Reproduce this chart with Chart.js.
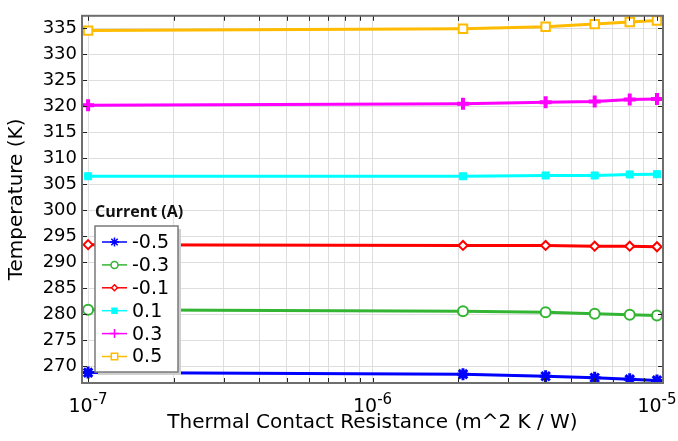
<!DOCTYPE html>
<html>
<head>
<meta charset="utf-8">
<script src="https://cdn.jsdelivr.net/npm/chart.js"></script>
<style>
  html, body { margin: 0; padding: 0; background: #fff; }
  #wrap { width: 678px; height: 441px; position: relative; }
</style>
</head>
<body>
<div id="wrap"><canvas id="chart"></canvas></div>
<script>
// Sweep of the contact resistance (m^2 K / W)
const resistance = [1e-7, 2.08e-6, 4.06e-6, 6.04e-6, 8.02e-6, 1e-5];

// Temperature (K) for each current (A)
const currents = ['-0.5', '-0.3', '-0.1', '0.1', '0.3', '0.5'];
const tempM05 = [268.8, 268.5, 268.1, 267.8, 267.5, 267.3];
const tempM03 = [280.9, 280.6, 280.4, 280.1, 279.9, 279.8];
const tempM01 = [293.4, 293.25, 293.25, 293.1, 293.1, 293.0];
const tempP01 = [306.55, 306.55, 306.7, 306.7, 306.9, 306.95];
const tempP03 = [320.2, 320.5, 320.8, 320.9, 321.3, 321.4];
const tempP05 = [334.55, 334.9, 335.3, 335.8, 336.2, 336.5];

// Axis ticks
const yTicks = [270, 275, 280, 285, 290, 295, 300, 305, 310, 315, 320, 325, 330, 335];
const xTicks = [1e-7, 2e-7, 3e-7, 4e-7, 5e-7, 6e-7, 7e-7, 8e-7, 9e-7,
                1e-6, 2e-6, 3e-6, 4e-6, 5e-6, 6e-6, 7e-6, 8e-6, 9e-6, 1e-5];
const xMajor = [1e-7, 1e-6, 1e-5];
const xMajorExp = ['-7', '-6', '-5'];

const FONT = 'DejaVu Sans';

const series = [
  { values: tempM05, color: '#0000ff', style: 'star',    radius: 6,   bw: 3,   fill: '#0000ff' },
  { values: tempM03, color: '#33b533', style: 'circle',  radius: 5,   bw: 2,   fill: '#ffffff' },
  { values: tempM01, color: '#ff0000', style: 'rectRot', radius: 4.5, bw: 2,   fill: '#ffffff' },
  { values: tempP01, color: '#00ffff', style: 'rect',    radius: 5,   bw: 1,   fill: '#00ffff' },
  { values: tempP03, color: '#ff00ff', style: 'cross',   radius: 6,   bw: 4,   fill: '#ff00ff' },
  { values: tempP05, color: '#ffbb00', style: 'rect',    radius: 6,   bw: 2,   fill: '#ffffff' }
];

const datasets = series.map((s, i) => ({
  label: currents[i],
  data: resistance.map((r, k) => ({ x: r, y: s.values[k] })),
  showLine: true,
  borderColor: s.color,
  borderWidth: 3,
  pointStyle: s.style,
  pointRadius: s.radius,
  pointBorderWidth: s.bw,
  pointBorderColor: s.color,
  pointBackgroundColor: s.fill
}));

// Frame, inward ticks, superscript x labels and the boxed legend
const decorations = {
  id: 'decorations',
  afterDraw(chart) {
    const { ctx, chartArea: a, scales: { x, y } } = chart;
    ctx.save();

    ctx.strokeStyle = '#222';
    ctx.lineWidth = 1;
    ctx.beginPath();
    x.ticks.forEach(t => {
      const px = Math.round(x.getPixelForValue(t.value)) + 0.5;
      ctx.moveTo(px, a.top); ctx.lineTo(px, a.top + 5);
      ctx.moveTo(px, a.bottom); ctx.lineTo(px, a.bottom - 5);
    });
    y.ticks.forEach(t => {
      const py = Math.round(y.getPixelForValue(t.value)) + 0.5;
      ctx.moveTo(a.left, py); ctx.lineTo(a.left + 5, py);
      ctx.moveTo(a.right, py); ctx.lineTo(a.right - 5, py);
    });
    ctx.stroke();

    ctx.strokeStyle = '#6e6e6e';
    ctx.lineWidth = 2;
    ctx.strokeRect(a.left, a.top, a.right - a.left, a.bottom - a.top);

    // x tick labels: 10 with a raised exponent
    ctx.fillStyle = '#000';
    ctx.textBaseline = 'alphabetic';
    xMajor.forEach((v, i) => {
      const px = x.getPixelForValue(v);
      ctx.font = '19px "' + FONT + '"';
      const wBase = ctx.measureText('10').width;
      ctx.font = '15px "' + FONT + '"';
      const wExp = ctx.measureText(xMajorExp[i]).width;
      const x0 = px - (wBase + wExp) / 2;
      ctx.font = '19px "' + FONT + '"';
      ctx.textAlign = 'left';
      ctx.fillText('10', x0, 412);
      ctx.font = '15px "' + FONT + '"';
      ctx.fillText(xMajorExp[i], x0 + wBase, 404);
    });

    // legend
    const lx = 95, ly = 226, lw = 83, lh = 146;
    ctx.fillStyle = '#cfcfcf';
    ctx.fillRect(lx + 3, ly + 3, lw, lh);
    ctx.fillStyle = '#fff';
    ctx.fillRect(lx, ly, lw, lh);
    ctx.strokeStyle = '#7a7a7a';
    ctx.lineWidth = 1.5;
    ctx.strokeRect(lx, ly, lw, lh);

    ctx.fillStyle = '#111';
    ctx.font = 'bold 16px "Open Sans"';
    ctx.textAlign = 'left';
    ctx.textBaseline = 'alphabetic';
    ctx.fillText('Current (A)', 95, 217);

    series.forEach((s, i) => {
      const ry = 242 + i * 22.9;
      ctx.strokeStyle = s.color;
      ctx.lineWidth = 1.5;
      ctx.beginPath();
      ctx.moveTo(102, ry); ctx.lineTo(127, ry);
      ctx.stroke();
      ctx.fillStyle = s.fill;
      ctx.strokeStyle = s.color;
      Chart.helpers.drawPoint(ctx, {
        pointStyle: s.style, radius: s.radius - 1.5, rotation: 0,
        borderWidth: Math.max(1.5, s.bw - 1)
      }, 114.5, ry);
      ctx.fillStyle = '#000';
      ctx.font = '19px "' + FONT + '"';
      ctx.textBaseline = 'middle';
      ctx.fillText(currents[i], 132, ry + 1);
    });

    ctx.restore();
  }
};

new Chart(document.getElementById('chart'), {
  type: 'scatter',
  data: { datasets },
  options: {
    responsive: true,
    maintainAspectRatio: false,
    animation: false,
    layout: { padding: { left: 0, top: 11, right: 15, bottom: 0 } },
    plugins: { legend: { display: false }, tooltip: { enabled: false } },
    scales: {
      x: {
        type: 'logarithmic',
        min: 9.52e-8,
        max: 1.05e-5,
        afterBuildTicks: s => { s.ticks = xTicks.map(v => ({ value: v })); },
        afterFit: s => { s.height = 58; },
        grid: { color: '#dedede', lineWidth: 1, drawTicks: false },
        border: { display: false },
        ticks: { display: false },
        title: {
          display: true,
          text: 'Thermal Contact Resistance (m^2 K / W)',
          color: '#000',
          font: { family: FONT, size: 20 },
          padding: { top: 0, bottom: 6 }
        }
      },
      y: {
        min: 266.8,
        max: 337.4,
        afterBuildTicks: s => { s.ticks = yTicks.map(v => ({ value: v })); },
        afterFit: s => { s.width = 82; },
        grid: { color: '#dedede', lineWidth: 1, drawTicks: false },
        border: { display: false },
        ticks: { color: '#000', font: { family: FONT, size: 18 }, padding: 5 },
        title: {
          display: true,
          text: 'Temperature (K)',
          color: '#000',
          font: { family: FONT, size: 20 },
          padding: { top: 5, bottom: 0 }
        }
      }
    }
  },
  plugins: [decorations]
});
</script>
</body>
</html>
